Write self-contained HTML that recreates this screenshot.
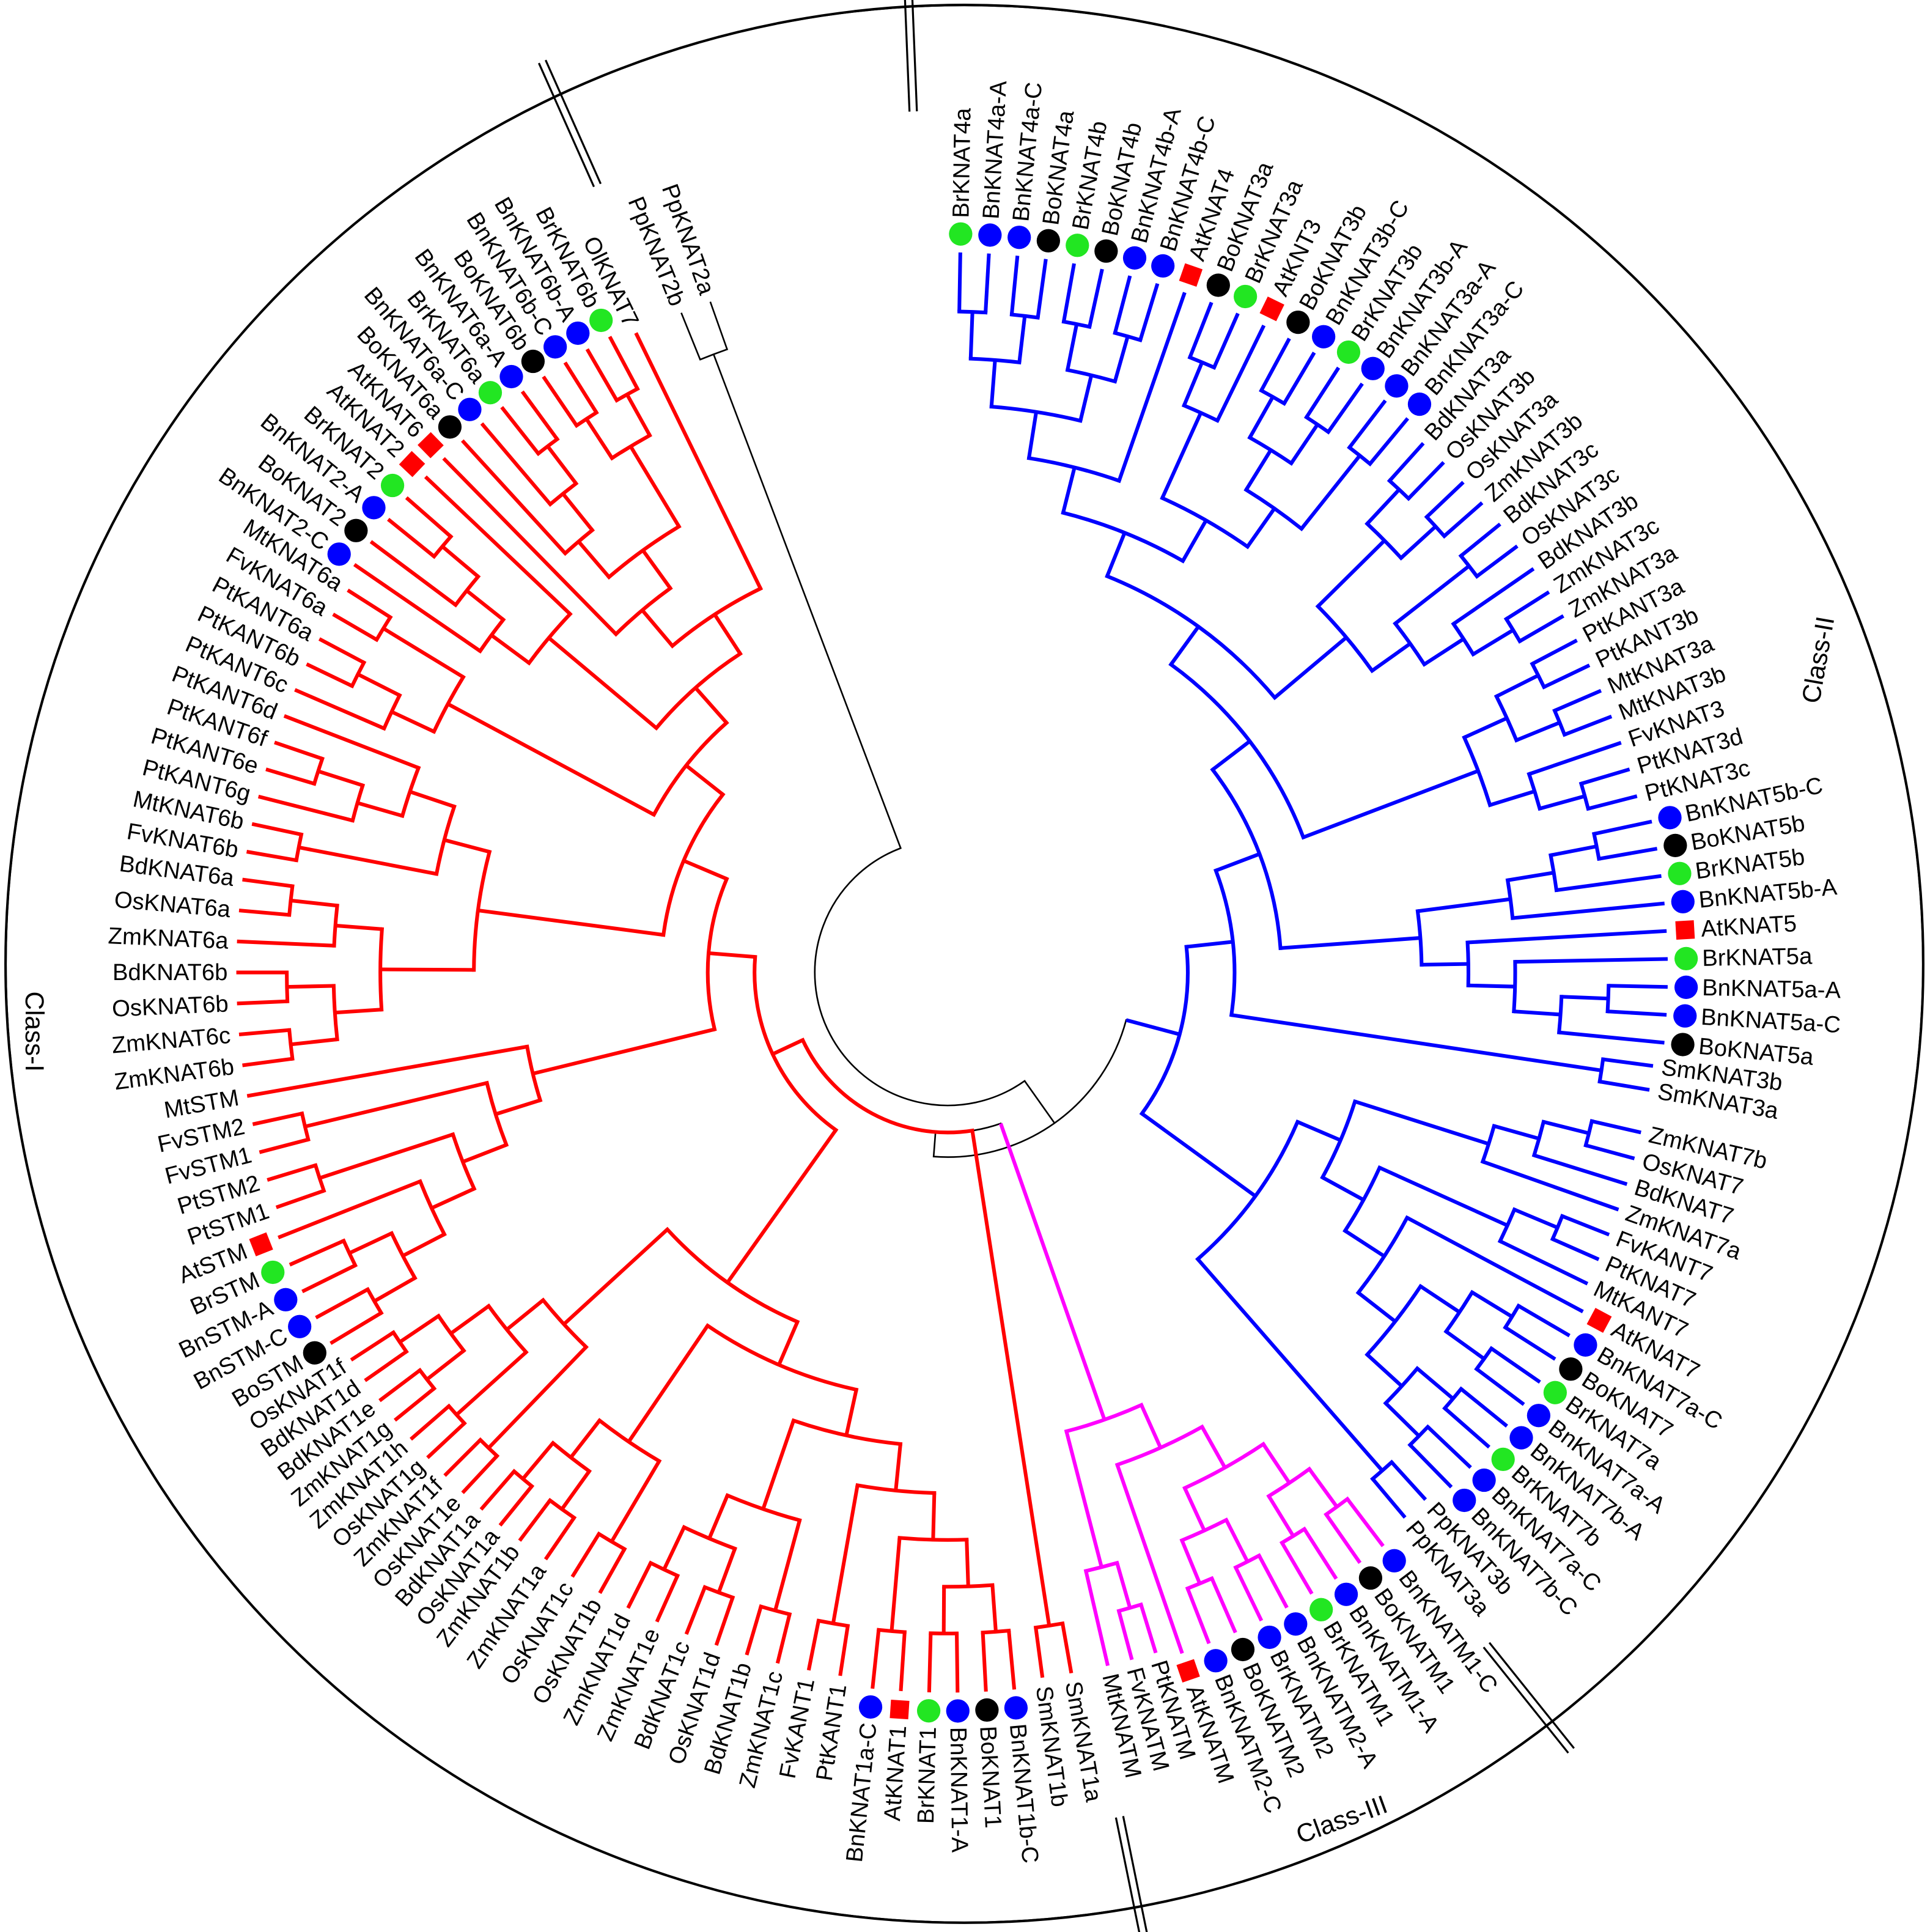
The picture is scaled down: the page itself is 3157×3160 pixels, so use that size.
<!DOCTYPE html>
<html><head><meta charset="utf-8">
<style>
html,body{margin:0;padding:0;background:#fff;}
svg{display:block;}
text{font-family:"Liberation Sans",Arial,sans-serif;}
</style></head>
<body>
<svg id="s" xmlns="http://www.w3.org/2000/svg" width="3157" height="3160" viewBox="0 0 1568 1569.5" preserveAspectRatio="none">
<rect width="1568" height="1569.5" fill="#fff"/>
<circle cx="783.5" cy="783" r="779" fill="none" stroke="#000" stroke-width="2"/>
<g id="tree"></g>
<text x="1477" y="536" font-size="21" text-anchor="middle" dominant-baseline="central" transform="rotate(-80 1477 536)">Class-II</text>
<text x="28" y="838" font-size="21" text-anchor="middle" dominant-baseline="central" transform="rotate(90 28 838)">Class-I</text>
<text x="1090" y="1478" font-size="21" text-anchor="middle" dominant-baseline="central" transform="rotate(-20 1090 1478)">Class-III</text>
</svg>
<script>
(function(){
var C=[770,790];
function P(r,a){var t=a*Math.PI/180;return [C[0]+r*Math.cos(t),C[1]+r*Math.sin(t)];}
// Class II
var K4=[[["BrKNAT4a","BnKNAT4a-A"],["BnKNAT4a-C","BoKNAT4a"]],[["BrKNAT4b","BoKNAT4b"],["BnKNAT4b-A","BnKNAT4b-C"]]];
var K34=[[K4,"AtKNAT4"],[[["BoKNAT3a","BrKNAT3a"],"AtKNT3"],[[["BoKNAT3b","BnKNAT3b-C"],["BrKNAT3b","BnKNAT3b-A"]],["BnKNAT3a-A","BnKNAT3a-C"]]]];
var Mono3=[[["BdKNAT3a","OsKNAT3b"],["OsKNAT3a","ZmKNAT3b"]],[["BdKNAT3c","OsKNAT3c"],["BdKNAT3b",["ZmKNAT3c","ZmKNAT3a"]]]];
var Dic3=[[["PtKANT3a","PtKANT3b"],["MtKNAT3a","MtKNAT3b"]],["FvKNAT3",["PtKNAT3d","PtKNAT3c"]]];
var K3all=[[K34,Mono3],Dic3];
var K5=[[[["BnKNAT5b-C","BoKNAT5b"],"BrKNAT5b"],"BnKNAT5b-A"],["AtKNAT5",["BrKNAT5a",[["BnKNAT5a-A","BnKNAT5a-C"],"BoKNAT5a"]]]];
var Sm=["SmKNAT3b","SmKNAT3a"];
var K7=[[[["ZmKNAT7b","OsKNAT7"],"BdKNAT7"],"ZmKNAT7a"],[[["FvKANT7","PtKNAT7"],"MtKANT7"],["AtKNAT7",[[["BnKNAT7a-C","BoKNAT7"],["BrKNAT7a","BnKNAT7a-A"]],[["BnKNAT7b-A","BrKNAT7b"],["BnKNAT7a-C","BnKNAT7b-C"]]]]]];
var ClassII=[[[K3all,K5],Sm],[K7,["PpKNAT3b","PpKNAT3a"]]];
// Class III
var ClassIII=[[[[["BnKNATM1-C","BoKNATM1"],["BnKNATM1-A","BrKNATM1"]],[["BnKNATM2-A","BrKNATM2"],["BoKNATM2","BnKNATM2-C"]]],"AtKNATM"],[["PtKNATM","FvKNATM"],"MtKNATM"]];
// Class I
var Bras1=[[["BnKNAT1b-C","BoKNAT1"],["BnKNAT1-A","BrKNAT1"]],["AtKNAT1","BnKNAT1a-C"]];
var Dicot1=[Bras1,["PtKANT1","FvKANT1"]];
var Mono1a=[["ZmKNAT1c","BdKNAT1b"],[["OsKNAT1d","BdKNAT1c"],["ZmKNAT1e","ZmKNAT1d"]]];
var Mono1b=[["OsKNAT1b","OsKNAT1c"],[["ZmKNAT1a","ZmKNAT1b"],["OsKNAT1a","BdKNAT1a"]]];
var Mono1c=[["OsKNAT1e","ZmKNAT1f"],[["OsKNAT1g","ZmKNAT1h"],[["ZmKNAT1g","BdKNAT1e"],["BdKNAT1d","OsKNAT1f"]]]];
var K1=[[[Dicot1,Mono1a],Mono1b],Mono1c];
var STM=[[[[[["BoSTM","BnSTM-C"],["BnSTM-A","BrSTM"]],"AtSTM"],["PtSTM1","PtSTM2"]],["FvSTM1","FvSTM2"]],"MtSTM"];
var Monocot6=[[["ZmKNAT6b","ZmKNAT6c"],["OsKNAT6b","BdKNAT6b"]],["ZmKNAT6a",["OsKNAT6a","BdKNAT6a"]]];
var KNAT6b=[["FvKNAT6b","MtKNAT6b"],[["PtKANT6g",["PtKANT6e","PtKANT6f"]],"PtKANT6d"]];
var KNAT6a=[["PtKANT6c",["PtKANT6b","PtKANT6a"]],["FvKNAT6a","MtKNAT6a"]];
var KNAT2=[["BnKNAT2-C",["BoKNAT2",["BnKNAT2-A","BrKNAT2"]]],"AtKNAT2"];
var A6=[["BoKNAT6a",["BnKNAT6a-C",["BrKNAT6a","BnKNAT6a-A"]]],[["BoKNAT6b","BnKNAT6b-C"],["BnKNAT6b-A","BrKNAT6b"]]];
var Group6=[["AtKNAT6",A6],"OlKNAT7"];
var Upper=[[Monocot6,KNAT6b],[KNAT6a,[KNAT2,Group6]]];
var ClassI=[["SmKNAT1a","SmKNAT1b"],[K1,[STM,Upper]]];
var Pp2=["PpKNAT2b","PpKNAT2a"];

var mk={"BrKNAT4a":"g","BnKNAT4a-A":"b","BnKNAT4a-C":"b","BoKNAT4a":"k","BrKNAT4b":"g","BoKNAT4b":"k","BnKNAT4b-A":"b","BnKNAT4b-C":"b","AtKNAT4":"r","BoKNAT3a":"k","BrKNAT3a":"g","AtKNT3":"r","BoKNAT3b":"k","BnKNAT3b-C":"b","BrKNAT3b":"g","BnKNAT3b-A":"b","BnKNAT3a-A":"b","BnKNAT3a-C":"b",
"BnKNAT5b-C":"b","BoKNAT5b":"k","BrKNAT5b":"g","BnKNAT5b-A":"b","AtKNAT5":"r","BrKNAT5a":"g","BnKNAT5a-A":"b","BnKNAT5a-C":"b","BoKNAT5a":"k",
"AtKNAT7":"r","BnKNAT7a-C":"b","BoKNAT7":"k","BrKNAT7a":"g","BnKNAT7a-A":"b","BnKNAT7b-A":"b","BrKNAT7b":"g","BnKNAT7b-C":"b",
"BnKNATM1-C":"b","BoKNATM1":"k","BnKNATM1-A":"b","BrKNATM1":"g","BnKNATM2-A":"b","BrKNATM2":"b","BoKNATM2":"k","BnKNATM2-C":"b","AtKNATM":"r",
"BnKNAT1b-C":"b","BoKNAT1":"k","BnKNAT1-A":"b","BrKNAT1":"g","AtKNAT1":"r","BnKNAT1a-C":"b",
"BoSTM":"k","BnSTM-C":"b","BnSTM-A":"b","BrSTM":"g","AtSTM":"r",
"BnKNAT2-C":"b","BoKNAT2":"k","BnKNAT2-A":"b","BrKNAT2":"g","AtKNAT2":"r","AtKNAT6":"r","BoKNAT6a":"k","BnKNAT6a-C":"b","BrKNAT6a":"g","BnKNAT6a-A":"b","BoKNAT6b":"k","BnKNAT6b-C":"b","BnKNAT6b-A":"b","BrKNAT6b":"g"};
var mcol={g:"#22e622",b:"#0000ff",k:"#000000",r:"#ff0000"};

function wrap(x,col){
  if(typeof x==="string") return {name:x,color:col,leaf:true};
  if(x.isNode) return x;
  return {children:x.map(function(c){return wrap(c,col);}),color:col};
}
var root={isNode:true,color:"#000",children:[
  {isNode:true,color:"#000",children:[wrap(ClassII,"#0000ff"),{isNode:true,color:"#000",children:[wrap(ClassIII,"#ff00ff"),wrap(ClassI,"#ff0000")]}]},
  wrap(Pp2,"#000")]};

var leaves=[];
function collect(n){ if(n.leaf){leaves.push(n);} else n.children.forEach(collect); }
collect(root);
var anchors={"BrKNAT4a":-89,"BnKNAT3a-C":-50.3,"BnKNAT5b-C":-12.1,"AtKNAT5":-3.3,"BoKNAT5a":5.6,"SmKNAT3a":9.5,"ZmKNAT7b":13,"AtKNAT7":28.1,"PpKNAT3a":50,"BnKNATM1-C":52.8,"AtKNATM":71,"MtKNATM":77,"SmKNAT1a":80,"BnKNAT1b-C":84.7,"BnKNAT1a-C":96,"PtKANT1":98.7,"ZmKNAT1b":127,"BoSTM":149,"AtSTM":158.4,"MtSTM":170,"ZmKNAT6b":172.5,"BdKNAT6a":187.5,"MtKNAT6a":212.5,"BnKNAT2-C":214.5,"AtKNAT2":223.5,"BrKNAT6b":242,"OlKNAT7":244,"PpKNAT2b":248,"PpKNAT2a":250.5};
var idx=[];
leaves.forEach(function(l,i){ if(anchors[l.name]!==undefined && !idx.some(function(p){return p[1]===l.name;})) idx.push([i,l.name,anchors[l.name]]); });
for(var k=0;k<idx.length-1;k++){
  var i0=idx[k][0],i1=idx[k+1][0],a0=idx[k][2],a1=idx[k+1][2];
  for(var i=i0;i<=i1;i++) leaves[i].a=a0+(a1-a0)*(i-i0)/Math.max(1,(i1-i0));
}
var LEAFR_PLAIN=578, LEAFR_DOT=585;
function layout(n){
  if(n.leaf){n.h=0;n.r=mk[n.name]?LEAFR_DOT:LEAFR_PLAIN;return;}
  n.children.forEach(layout);
  n.h=1+Math.max.apply(null,n.children.map(function(c){return c.h;}));
  n.a=(n.children[0].a+n.children[n.children.length-1].a)/2;
  var minr=Math.min.apply(null,n.children.map(function(c){return c.r;}));
  n.r=Math.min(minr-22,575-n.h*38);
  if(n.r<130)n.r=130;
}
layout(root);
root.r=108;
root.children[0].r=Math.max(root.children[0].r,150);
var out=[];
function sw(c){return c==="#000"?1.3:3;}
function draw(n){
  if(n.leaf)return;
  var a0=n.children[0].a,a1=n.children[n.children.length-1].a;
  var p0=P(n.r,a0),p1=P(n.r,a1);
  var large=(a1-a0)>180?1:0;
  out.push('<path d="M'+p0[0].toFixed(2)+' '+p0[1].toFixed(2)+' A'+n.r+' '+n.r+' 0 '+large+' 1 '+p1[0].toFixed(2)+' '+p1[1].toFixed(2)+'" fill="none" stroke="'+n.color+'" stroke-width="'+sw(n.color)+'" stroke-linecap="square"/>');
  n.children.forEach(function(c){
    var q0=P(n.r,c.a),q1=P(c.r,c.a);
    out.push('<line x1="'+q0[0].toFixed(2)+'" y1="'+q0[1].toFixed(2)+'" x2="'+q1[0].toFixed(2)+'" y2="'+q1[1].toFixed(2)+'" stroke="'+c.color+'" stroke-width="'+sw(c.color)+'"/>');
    draw(c);
  });
}
draw(root);
leaves.forEach(function(l){
  var m=mk[l.name], a=l.a, lr;
  if(m){
    var d=P(600,a);
    if(m==="r") out.push('<rect x="'+(d[0]-7.5).toFixed(2)+'" y="'+(d[1]-7.5).toFixed(2)+'" width="15" height="15" fill="#ff0000" transform="rotate('+a.toFixed(2)+' '+d[0].toFixed(2)+' '+d[1].toFixed(2)+')"/>');
    else out.push('<circle cx="'+d[0].toFixed(2)+'" cy="'+d[1].toFixed(2)+'" r="9.5" fill="'+mcol[m]+'"/>');
    lr=613;
  } else lr=585;
  var p=P(lr,a), rad=a*Math.PI/180, rot, anc;
  if(Math.cos(rad)>=0){rot=a;anc="start";} else {rot=a+180;anc="end";}
  out.push('<text x="'+p[0].toFixed(2)+'" y="'+p[1].toFixed(2)+'" font-size="19" text-anchor="'+anc+'" dominant-baseline="central" transform="rotate('+rot.toFixed(2)+' '+p[0].toFixed(2)+' '+p[1].toFixed(2)+')">'+l.name+'</text>');
});
// separators (double radial lines)
[-92.3,246,78.5,51.3].forEach(function(a){
  var r0=700,r1=810;
  [-3,3].forEach(function(off){
    var t=a*Math.PI/180, nx=-Math.sin(t)*off, ny=Math.cos(t)*off;
    var p0=P(r0,a),p1=P(r1,a);
    out.push('<line x1="'+(p0[0]+nx).toFixed(2)+'" y1="'+(p0[1]+ny).toFixed(2)+'" x2="'+(p1[0]+nx).toFixed(2)+'" y2="'+(p1[1]+ny).toFixed(2)+'" stroke="#000" stroke-width="1.6"/>');
  });
});
document.getElementById("tree").innerHTML=out.join("");
// clip separators to circle: draw white outside circle
var s=document.getElementById("s");
var ns="http://www.w3.org/2000/svg";
var mask=document.createElementNS(ns,"path");
mask.setAttribute("d","M0 0 H1568 V1569.5 H0 Z M783.5 4 A779 779 0 1 0 783.5 1562 A779 779 0 1 0 783.5 4 Z");
mask.setAttribute("fill","#fff");mask.setAttribute("fill-rule","evenodd");
s.insertBefore(mask,s.querySelector("circle").nextSibling.nextSibling);
var c2=document.createElementNS(ns,"circle");
c2.setAttribute("cx","783.5");c2.setAttribute("cy","783");c2.setAttribute("r","779");c2.setAttribute("fill","none");c2.setAttribute("stroke","#000");c2.setAttribute("stroke-width","2");
s.insertBefore(c2,mask.nextSibling);
})();
</script>
</body></html>
